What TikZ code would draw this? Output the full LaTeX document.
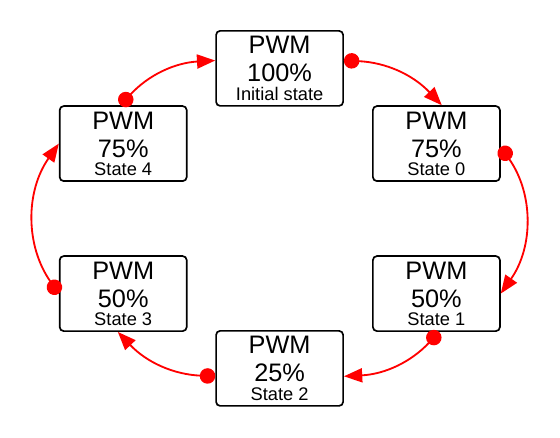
\documentclass[tikz,border=0pt]{standalone}
\usepackage{fontspec}
\setmainfont{Liberation Sans}
\usetikzlibrary{arrows.meta}

\newcommand{\statename}[1]{{\fontsize{13}{15}\selectfont #1}}

\begin{document}
\begin{tikzpicture}
    \useasboundingbox (0, 0) rectangle (14, 10.95);
    \tikzset{
        statebox/.style={draw, line width=1.2pt, rounded corners=0.1cm,
            minimum width=3.175cm, minimum height=1.875cm, inner sep=0pt,
            align=center, font=\fontsize{18}{20}\selectfont},
        trans/.style={red, line width=1.3pt,
            {Circle[length=11pt]}-{Triangle[length=13pt, width=10pt]}}
    }

    % States (ring of six boxes)
    \foreach \name/\x/\y/\duty/\label in {
        init/6.99/9.24/100/Initial state,
        s0/10.91/7.36/75/State 0,
        s1/10.91/3.61/50/State 1,
        s2/6.99/1.74/25/State 2,
        s3/3.08/3.61/50/State 3,
        s4/3.08/7.36/75/State 4} {
        \node[statebox] (\name) at (\x, \y) {PWM\\\duty\%\\[-7pt]\statename{\label}};
    }

    % Transitions (dot at source, arrow at target)
    \draw[trans] (init.7)   to[bend left=22] (s0.82);
    \draw[trans] (s0.-3)    to[bend left=35] (s1.east);
    \draw[trans] (s1.-86)   to[bend left=22] (s2.-7);
    \draw[trans] (s2.187)   to[bend left=22] (s3.262);
    \draw[trans] (s3.west)  to[bend left=35] (s4.west);
    \draw[trans] (s4.94)    to[bend left=22] (init.173);
\end{tikzpicture}
\end{document}
